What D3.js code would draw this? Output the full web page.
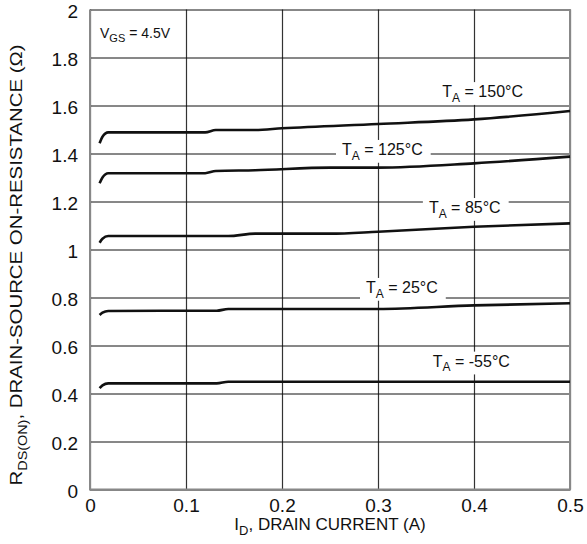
<!DOCTYPE html>
<html>
<head>
<meta charset="utf-8">
<script src="https://cdn.jsdelivr.net/npm/d3@7"></script>
<style>
  body { margin: 0; background: #fff; }
  text { font-family: "Liberation Sans", Arial, sans-serif; fill: #111; }
</style>
</head>
<body>
<script>
"use strict";

// drain current (A) and on-resistance (ohm)
const id150 = [0.010, 0.013, 0.019, 0.120, 0.131, 0.172, 0.200, 0.300, 0.400, 0.500];
const r150  = [1.443, 1.470, 1.488, 1.488, 1.498, 1.498, 1.505, 1.523, 1.542, 1.577];
const id125 = [0.010, 0.013, 0.019, 0.120, 0.131, 0.172, 0.250, 0.300, 0.400, 0.500];
const r125  = [1.276, 1.300, 1.318, 1.318, 1.327, 1.330, 1.341, 1.341, 1.359, 1.387];
const id85  = [0.010, 0.013, 0.019, 0.144, 0.172, 0.250, 0.300, 0.400, 0.500];
const r85   = [1.028, 1.045, 1.056, 1.056, 1.066, 1.066, 1.074, 1.095, 1.109];
const id25  = [0.010, 0.013, 0.019, 0.132, 0.144, 0.300, 0.400, 0.500];
const r25   = [0.727, 0.737, 0.744, 0.745, 0.752, 0.752, 0.767, 0.776];
const idM55 = [0.010, 0.013, 0.019, 0.132, 0.144, 0.500];
const rM55  = [0.422, 0.434, 0.442, 0.442, 0.449, 0.449];

const temps = ["150°C", "125°C", "85°C", "25°C", "-55°C"];
const xTicks = [0, 0.1, 0.2, 0.3, 0.4, 0.5];
const yTicks = [0, 0.2, 0.4, 0.6, 0.8, 1, 1.2, 1.4, 1.6, 1.8, 2];

const measurements = { width: 587, height: 544, left: 90, right: 570, top: 9.5, bottom: 489.5 };

const svg = d3.select("body").append("svg")
    .attr("width", measurements.width)
    .attr("height", measurements.height);

const scaleX = d3.scaleLinear().domain([0, 0.5]).range([measurements.left, measurements.right]);
const scaleY = d3.scaleLinear().domain([0, 2]).range([measurements.bottom, measurements.top]);
const plotW = measurements.right - measurements.left;
const plotH = measurements.bottom - measurements.top;

// grid lines
const gridX = svg.append("g")
    .attr("transform", `translate(0,${measurements.bottom})`)
    .call(d3.axisBottom(scaleX).tickValues(xTicks).tickSize(-plotH).tickFormat(""));
gridX.select(".domain").remove();
gridX.selectAll("line").attr("stroke", "#333").attr("stroke-width", 1.2);

const gridY = svg.append("g")
    .attr("transform", `translate(${measurements.left},0)`)
    .call(d3.axisLeft(scaleY).tickValues(yTicks).tickSize(-plotW).tickFormat(""));
gridY.select(".domain").remove();
gridY.selectAll("line").attr("stroke", "#111").attr("stroke-width", 1);

// frame
svg.append("path")
    .attr("d", `M${measurements.left},${measurements.top}V${measurements.bottom}H${measurements.right}V${measurements.top}`)
    .attr("fill", "none").attr("stroke", "#888").attr("stroke-width", 2);

// tick labels
const xAxis = svg.append("g")
    .attr("transform", `translate(0,${measurements.bottom})`)
    .call(d3.axisBottom(scaleX).tickValues(xTicks).tickSize(0).tickPadding(9)
        .tickFormat(d => String(+d.toFixed(1))));
xAxis.select(".domain").remove();
xAxis.selectAll("text").style("font-size", "19px").attr("fill", "#111")
    .style("font-family", '"Liberation Sans", Arial, sans-serif');

const yAxis = svg.append("g")
    .attr("transform", `translate(${measurements.left},0)`)
    .call(d3.axisLeft(scaleY).tickValues(yTicks).tickSize(0).tickPadding(12)
        .tickFormat(d => String(+d.toFixed(1))));
yAxis.select(".domain").remove();
yAxis.selectAll("text").style("font-size", "19px").attr("fill", "#111").attr("dy", "0.4em")
    .style("font-family", '"Liberation Sans", Arial, sans-serif');

// curves
const line = d3.line()
    .x(d => scaleX(d[0]))
    .y(d => scaleY(d[1]))
    .curve(d3.curveMonotoneX);

const series = [[id150, r150], [id125, r125], [id85, r85], [id25, r25], [idM55, rM55]];
series.forEach(([ids, rs]) => {
    svg.append("path")
        .datum(ids.map((v, i) => [v, rs[i]]))
        .attr("d", line)
        .attr("fill", "none")
        .attr("stroke", "#111")
        .attr("stroke-width", 2.6)
        .attr("stroke-linejoin", "round");
});

// text with a subscript
function subText(g, main, sub, rest, size, subSize) {
    const t = g.append("text").style("font-size", size + "px");
    t.append("tspan").text(main);
    t.append("tspan").style("font-size", subSize + "px").attr("dy", size * 0.3).text(sub);
    t.append("tspan").attr("dy", -size * 0.3).text(rest);
    return t;
}

// temperature labels with white backing
const labelSpots = [[0.367, 1.635], [0.2625, 1.394], [0.353, 1.152], [0.2875, 0.819], [0.357, 0.512]];
temps.forEach((tp, i) => {
    const g = svg.append("g")
        .attr("transform", `translate(${scaleX(labelSpots[i][0])},${scaleY(labelSpots[i][1])})`);
    const t = subText(g, "T", "A", " = " + tp, 16, 12);
    const bb = t.node().getBBox();
    g.insert("rect", "text")
        .attr("x", bb.x - 6).attr("y", bb.y - 1)
        .attr("width", bb.width + 14).attr("height", bb.height + 1)
        .attr("fill", "#fff");
});

// VGS note
const vg = svg.append("g").attr("transform", "translate(100,38)");
subText(vg, "V", "GS", " = 4.5V", 14, 11);

// axis titles
const xt = svg.append("g").attr("transform", `translate(${(measurements.left + measurements.right) / 2},530)`);
subText(xt, "I", "D", ", DRAIN CURRENT (A)", 17, 13).attr("text-anchor", "middle");

const yt = svg.append("g").attr("transform", "translate(22,265) rotate(-90) scale(1.2,1)");
subText(yt, "R", "DS(ON)", ", DRAIN-SOURCE ON-RESISTANCE (Ω)", 17, 12).attr("text-anchor", "middle");
</script>
</body>
</html>
